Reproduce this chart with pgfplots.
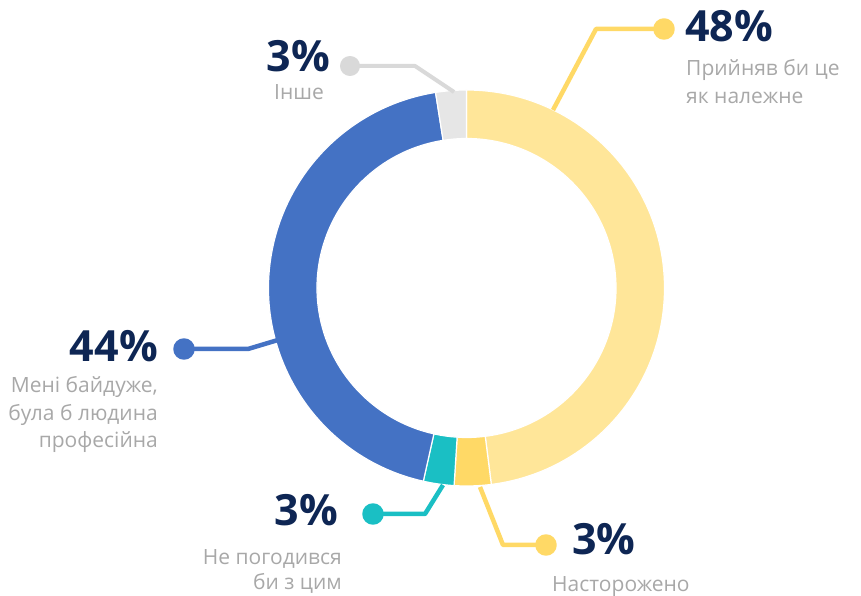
\documentclass[border=0pt]{standalone}
\usepackage{pgfplots}
\usepackage{pgfplotstable}
\pgfplotsset{compat=1.18}
\usepackage{fontspec}
\setmainfont{Open Sans}
\definecolor{cA}{HTML}{FFE699}
\definecolor{cB}{HTML}{FFD966}
\definecolor{cC}{HTML}{1ABFC4}
\definecolor{cD}{HTML}{4472C4}
\definecolor{cE}{HTML}{E6E6E6}
\definecolor{navy}{HTML}{0E2654}
\definecolor{lbl}{HTML}{A8A8A8}
\definecolor{leadgrey}{HTML}{D9D9D9}

\pgfplotstableread{
label value color
A 48 cA
B 3 cB
C 2.5 cC
D 44 cD
E 2.5 cE
}\donutdata

\newcommand\pct[1]{\fontsize{43}{43}\selectfont\bfseries #1}
\newcommand\lab{\fontsize{21}{27.5}\selectfont}

\begin{document}
\begin{tikzpicture}[x=1pt,y=1pt]
\useasboundingbox (0,0) rectangle (861,596);
\begin{axis}[
  at={(0,0)}, anchor=south west,
  scale only axis, width=861pt, height=596pt,
  xmin=0, xmax=861, ymin=0, ymax=596,
  hide axis, clip=false]
\def\cx{466.5}\def\cy{308}\def\Rout{198}\def\Rin{149.5}
\pgfplotstablegetrowsof{\donutdata}
\pgfmathtruncatemacro\nrows{\pgfplotsretval-1}
\def\cum{0}
\pgfplotsforeachungrouped \i in {0,...,\nrows}{
  \pgfplotstablegetelem{\i}{value}\of\donutdata \let\v\pgfplotsretval
  \pgfplotstablegetelem{\i}{color}\of\donutdata \let\c\pgfplotsretval
  \pgfmathsetmacro\aone{90-3.6*\cum}
  \pgfmathsetmacro\atwo{90-3.6*(\cum+\v)}
  \pgfmathsetmacro\xa{\cx+\Rout*cos(\aone)}
  \pgfmathsetmacro\ya{\cy+\Rout*sin(\aone)}
  \pgfmathsetmacro\xb{\cx+\Rin*cos(\atwo)}
  \pgfmathsetmacro\yb{\cy+\Rin*sin(\atwo)}
  \edef\temp{\noexpand\fill[\c, draw=white, line width=1.2pt, line join=miter]
    (axis cs:\xa,\ya) arc[start angle=\aone, end angle=\atwo, radius=\Rout pt]
    -- (axis cs:\xb,\yb) arc[start angle=\atwo, end angle=\aone, radius=\Rin pt] -- cycle;}
  \temp
  \pgfmathsetmacro\cum{\cum+\v}
}
% leader lines
\addplot[cB, line width=4.5pt, mark=*, mark size=8.5pt, mark indices={1}, line join=round]
  coordinates {(664,567) (596,567) (553,486)};
\addplot[leadgrey, line width=4pt, mark=*, mark size=8pt, mark indices={1}, line join=round]
  coordinates {(350,530) (415,530) (454,504)};
\addplot[cD, line width=4.5pt, mark=*, mark size=8.5pt, mark indices={1}, line join=round]
  coordinates {(184,247) (248,247) (278,256)};
\addplot[cC, line width=4.5pt, mark=*, mark size=8.5pt, mark indices={1}, line join=round]
  coordinates {(373,82) (425,82) (443,111)};
\addplot[cB, line width=4.5pt, mark=*, mark size=8.5pt, mark indices={1}, line join=round]
  coordinates {(546,51) (503,51) (480,109)};
% labels
\node[anchor=base west, inner sep=0, text=navy] at (axis cs:685,554) {\pct{48\%}};
\node[anchor=base west, inner sep=0, text=lbl] at (axis cs:686,520) {\lab Прийняв би це};
\node[anchor=base west, inner sep=0, text=lbl] at (axis cs:686,492) {\lab як належне};

\node[anchor=base east, inner sep=0, text=navy] at (axis cs:330,524) {\pct{3\%}};
\node[anchor=base east, inner sep=0, text=lbl] at (axis cs:324,496) {\lab Інше};

\node[anchor=base east, inner sep=0, text=navy] at (axis cs:158,234) {\pct{44\%}};
\node[anchor=base east, inner sep=0, text=lbl] at (axis cs:158,203) {\lab Мені байдуже,};
\node[anchor=base east, inner sep=0, text=lbl] at (axis cs:158,175) {\lab була б людина};
\node[anchor=base east, inner sep=0, text=lbl] at (axis cs:158,148) {\lab професійна};

\node[anchor=base east, inner sep=0, text=navy] at (axis cs:338,70) {\pct{3\%}};
\node[anchor=base east, inner sep=0, text=lbl] at (axis cs:342,31) {\lab Не погодився};
\node[anchor=base east, inner sep=0, text=lbl] at (axis cs:342,6) {\lab би з цим};

\node[anchor=base west, inner sep=0, text=navy] at (axis cs:572,41) {\pct{3\%}};
\node[anchor=base west, inner sep=0, text=lbl] at (axis cs:552,5) {\lab Насторожено};
\end{axis}
\end{tikzpicture}
\end{document}
